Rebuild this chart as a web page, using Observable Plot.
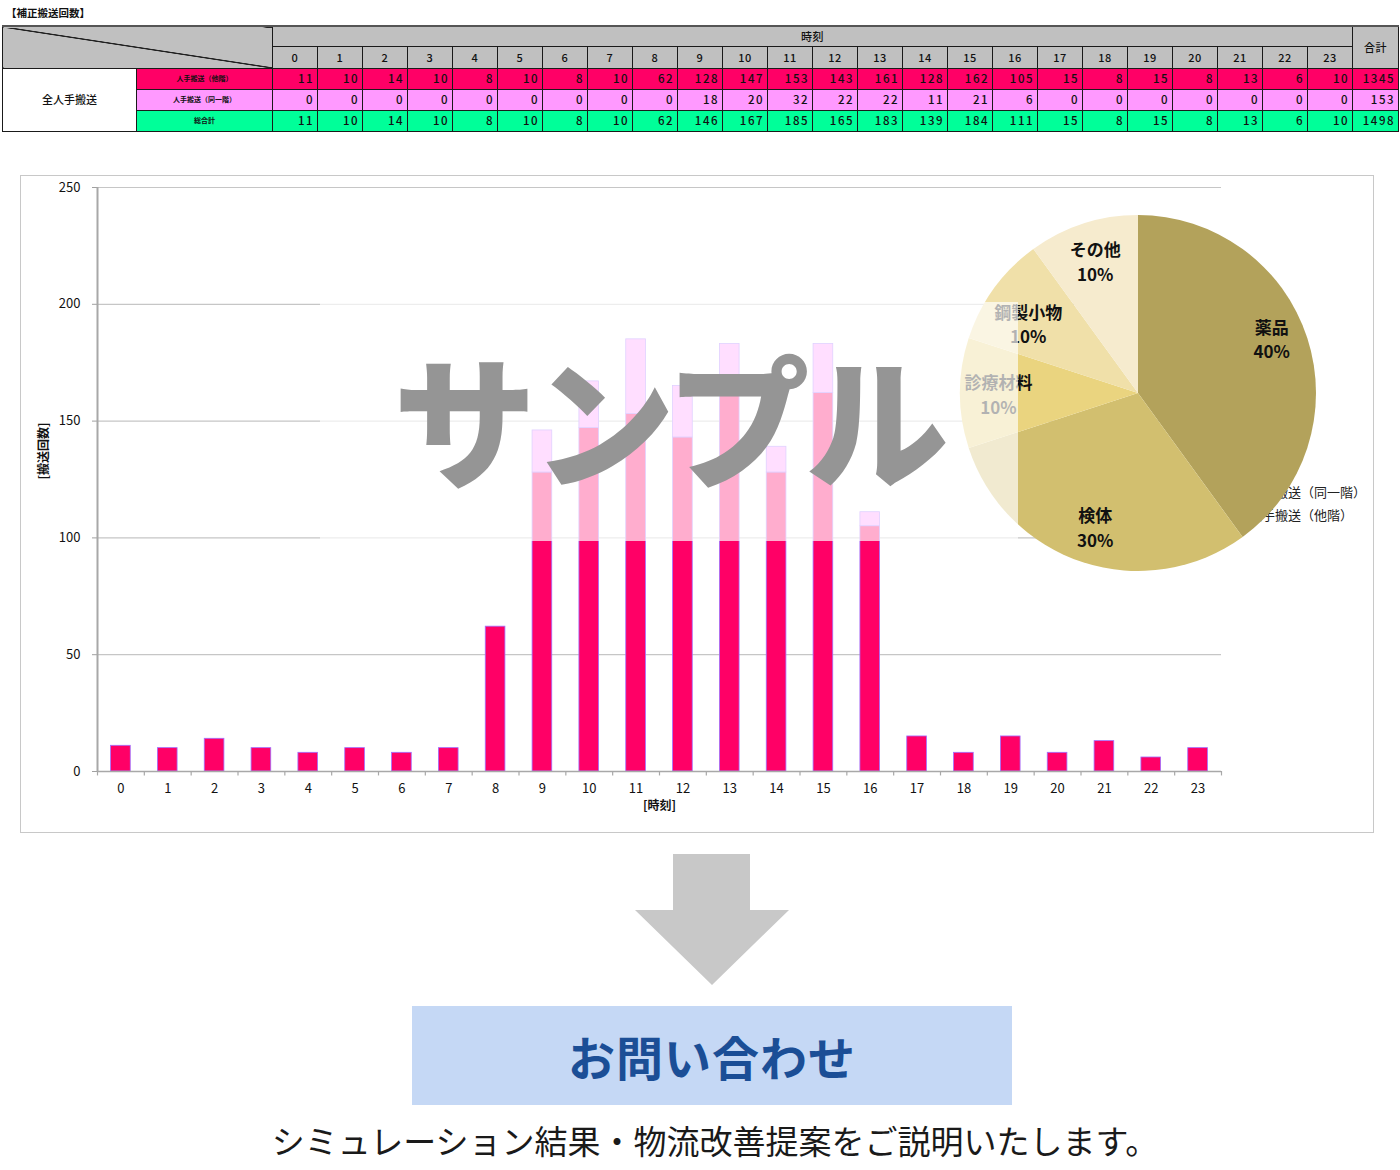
<!DOCTYPE html>
<html><head><meta charset="utf-8">
<script src="https://cdn.jsdelivr.net/npm/d3@7"></script>
<script src="https://cdn.jsdelivr.net/npm/@observablehq/plot@0.6"></script>
<style>
body{margin:0;background:#fff;font-family:"Noto Sans CJK JP","Noto Sans",sans-serif;color:#111;}
#root{position:relative;width:1400px;height:1170px;overflow:hidden;background:#fff;}
.abs{position:absolute;}
#title{left:6px;top:5px;font-size:10.5px;font-weight:700;line-height:16px;}
#tbl{position:absolute;left:2px;top:25px;border-collapse:collapse;table-layout:fixed;width:1396px;}
#tbl td{border:1.5px solid #1a1a1a;padding:0 3px 0 0;text-align:right;font-size:11.5px;font-weight:500;letter-spacing:1.5px;line-height:1;overflow:hidden;white-space:nowrap;}
#tbl tr:first-child td{border-top:2px solid #555;}
#tbl td.hdr{background:#c0c0c0;text-align:center;padding:0;letter-spacing:0.5px;font-size:11px;}
#tbl td.corner{background:linear-gradient(to top right,#c0c0c0 calc(50% - 1px),#222 calc(50% - 0.4px),#222 calc(50% + 0.4px),#c0c0c0 calc(50% + 1px));}
#tbl td.main{background:#fff;text-align:center;font-size:11px;letter-spacing:0;padding:0;}
#tbl td.lbl{text-align:center;font-size:7px;font-weight:700;letter-spacing:0;padding:0;}
#chartBorder{left:20px;top:175px;width:1354px;height:658px;box-sizing:border-box;border:1.5px solid #c8c8c8;}
#chart{left:20px;top:175px;}
#chart svg [aria-label="y-axis tick"], #chart svg [aria-label="x-axis tick"]{stroke:#a0a0a0;}
.leg{font-size:13px;line-height:16px;color:#222;white-space:nowrap;}
.sw{width:9px;height:9px;}
#pie{left:948px;top:203px;}
#overlay{left:320px;top:302px;width:698px;height:239px;background:rgba(255,255,255,0.68);}
#wm{left:669px;top:344px;transform:translateX(-50%);font-size:143px;font-weight:900;color:#959595;line-height:1;white-space:nowrap;letter-spacing:-4px;}
#btn{left:412px;top:1006px;width:600px;height:99px;background:#c5d8f5;display:flex;align-items:center;justify-content:center;color:#1b4e96;font-size:47px;font-weight:700;letter-spacing:1px;}
#foot{left:0;width:1400px;top:1118px;text-align:center;font-size:33px;line-height:44px;color:#1a1a1a;padding-left:30px;box-sizing:border-box;}
</style></head>
<body><div id="root"></div>
<script>
// ---------------- data ----------------
const hours = [0,1,2,3,4,5,6,7,8,9,10,11,12,13,14,15,16,17,18,19,20,21,22,23];
const otherFloor = [11,10,14,10,8,10,8,10,62,128,147,153,143,161,128,162,105,15,8,15,8,13,6,10];
const sameFloor  = [0,0,0,0,0,0,0,0,0,18,20,32,22,22,11,21,6,0,0,0,0,0,0,0];
const totalAll   = [11,10,14,10,8,10,8,10,62,146,167,185,165,183,139,184,111,15,8,15,8,13,6,10];
const rowSums = [1345, 153, 1498];
const seriesNames = ["人手搬送（他階）", "人手搬送（同一階）"];
const rowLabels = ["人手搬送（他階）", "人手搬送（同一階）", "総合計"];
const rowColors = ["#ff0066", "#ff99ff", "#00ff99"];
const yTicks = [0, 50, 100, 150, 200, 250];
const pieCategories = ["薬品", "検体", "診療材料", "鋼製小物", "その他"];
const pieShares = [40, 30, 10, 10, 10];
const pieColors = ["#b3a25b", "#d2bf6f", "#ead47f", "#f0e0a9", "#f6ebce"];

const root = document.getElementById("root");
function add(html){ const t=document.createElement("div"); t.innerHTML=html; const n=t.firstElementChild; root.appendChild(n); return n; }

// ---------------- title + table ----------------
add(`<div id="title" class="abs">【補正搬送回数】</div>`);
const rows = [otherFloor, sameFloor, totalAll];
let tbl = `<table id="tbl"><colgroup><col style="width:134px"><col style="width:136px">${hours.map(()=>'<col style="width:45px">').join("")}<col style="width:46px"></colgroup>`;
tbl += `<tr style="height:20px"><td class="hdr corner" colspan="2" rowspan="2"></td><td class="hdr" colspan="24">時刻</td><td class="hdr" rowspan="2">合計</td></tr>`;
tbl += `<tr style="height:22px">${hours.map(h=>`<td class="hdr">${h}</td>`).join("")}</tr>`;
rows.forEach((vals, r) => {
  tbl += `<tr style="height:21px">` +
    (r===0 ? `<td class="main" rowspan="3">全人手搬送</td>` : "") +
    `<td class="lbl" style="background:${rowColors[r]}">${rowLabels[r]}</td>` +
    vals.map(v=>`<td style="background:${rowColors[r]}">${v}</td>`).join("") +
    `<td style="background:${rowColors[r]}">${rowSums[r]}</td></tr>`;
});
tbl += `</table>`;
add(tbl);

// ---------------- bar chart ----------------
const barData = [];
hours.forEach((h, i) => {
  barData.push({hour: h, series: seriesNames[0], value: otherFloor[i]});
  barData.push({hour: h, series: seriesNames[1], value: sameFloor[i]});
});
const W = 1354, H = 658, mL = 77, mR = 153, mT = 12, mB = 62;
const step = (W - mL - mR) / hours.length;
const chart = Plot.plot({
  width: W, height: H,
  marginLeft: mL, marginRight: mR, marginTop: mT, marginBottom: mB,
  style: {fontFamily: '"Noto Sans CJK JP", sans-serif', fontSize: "13px", color: "#111", background: "transparent", overflow: "visible"},
  x: {type: "band", domain: hours, paddingInner: 0.58, paddingOuter: 0.29, round: false, tickSize: 0, tickPadding: 12, label: null},
  y: {domain: [0, 250], ticks: yTicks, tickSize: 5, tickPadding: 12, label: null},
  color: {domain: seriesNames, range: [rowColors[0], rowColors[1]]},
  marks: [
    Plot.ruleY(yTicks.slice(1), {stroke: "#c6c6c6", strokeWidth: 1.2}),
    Plot.barY(barData, {x: "hour", y: "value", fill: "series", stroke: "#a070ff", strokeWidth: 0.8}),
    Plot.ruleY([0], {stroke: "#a8a8a8", strokeWidth: 1.5}),
    Plot.ruleX([hours[0]], {dx: -step/2, stroke: "#a8a8a8", strokeWidth: 2}),
    Plot.ruleX(hours, {x: d => d, dx: -step/2, y1: 0, y2: -1.9, stroke: "#a8a8a8", strokeWidth: 1.2}),
    Plot.ruleX([hours[hours.length-1]], {x: d => d, dx: step/2, y1: 0, y2: -1.9, stroke: "#a8a8a8", strokeWidth: 1.2}),
    Plot.text(["[時刻]"], {text: d => d, frameAnchor: "bottom", dy: 38, fontWeight: "bold", fontSize: 12}),
    Plot.text(["[搬送回数]"], {text: d => d, frameAnchor: "left", dx: -53, rotate: -90, fontWeight: "bold", fontSize: 12})
  ]
});
const chartDiv = add(`<div id="chart" class="abs"></div>`);
chartDiv.appendChild(chart);
add(`<div id="chartBorder" class="abs"></div>`);

// legend (partly hidden behind the pie, as in the original)
add(`<div class="abs leg" style="left:1249px;top:484px">${seriesNames[1]}</div>`);
add(`<div class="abs leg" style="left:1249px;top:507px">${seriesNames[0]}</div>`);
add(`<div class="abs sw" style="left:1233px;top:488px;background:${rowColors[1]}"></div>`);
add(`<div class="abs sw" style="left:1233px;top:511px;background:${rowColors[0]}"></div>`);

// ---------------- pie chart ----------------
const pieData = pieCategories.map((c, i) => ({name: c, share: pieShares[i], color: pieColors[i]}));
const arcs = d3.pie().sort(null).value(d => d.share)(pieData);
const R = 178;
const arcGen = d3.arc().innerRadius(0).outerRadius(R);
const labelArc = d3.arc().innerRadius(140).outerRadius(140);
const labelOpts = {
  x: d => labelArc.centroid(d)[0],
  y: d => labelArc.centroid(d)[1],
  text: d => `${d.data.name}\n${d.data.share}%`,
  fontSize: 17, fontWeight: 700, fill: "#111", lineHeight: 1.45, textAnchor: "middle"
};
const pie = Plot.plot({
  width: 380, height: 380, margin: 0,
  style: {fontFamily: '"Noto Sans CJK JP", sans-serif', background: "transparent", overflow: "visible"},
  x: {domain: [-190, 190], range: [0, 380], axis: null},
  y: {domain: [-190, 190], range: [0, 380], axis: null},
  marks: [
    (index, scales) => {
      const sx = scales && scales.x ? scales.x : (v => v + 190);
      const sy = scales && scales.y ? scales.y : (v => v + 190);
      const g = d3.create("svg:g").attr("transform", `translate(${sx(0)},${sy(0)})`);
      g.selectAll("path").data(arcs).join("path").attr("d", arcGen).attr("fill", d => d.data.color);
      return g.node();
    },
    Plot.text(arcs, {...labelOpts, filter: d => d.data.name !== pieCategories[0] && d.data.name !== pieCategories[3]}),
    Plot.text(arcs, {...labelOpts, filter: d => d.data.name === pieCategories[0], dy: -12}),
    Plot.text(arcs, {...labelOpts, filter: d => d.data.name === pieCategories[3], dy: 12, dx: 3})
  ]
});
const pieDiv = add(`<div id="pie" class="abs"></div>`);
pieDiv.appendChild(pie);

// sample overlay + watermark
add(`<div id="overlay" class="abs"></div>`);
add(`<div id="wm" class="abs">サンプル</div>`);

// ---------------- arrow, button, footer ----------------
add(`<svg class="abs" style="left:0;top:0" width="1400" height="1170"><polygon points="673,854 750,854 750,910 789,910 712,985 635,910 673,910" fill="#c8c8c8"/></svg>`);
add(`<div id="btn" class="abs">お問い合わせ</div>`);
add(`<div id="foot" class="abs">シミュレーション結果・物流改善提案をご説明いたします。</div>`);
</script>
</body></html>
